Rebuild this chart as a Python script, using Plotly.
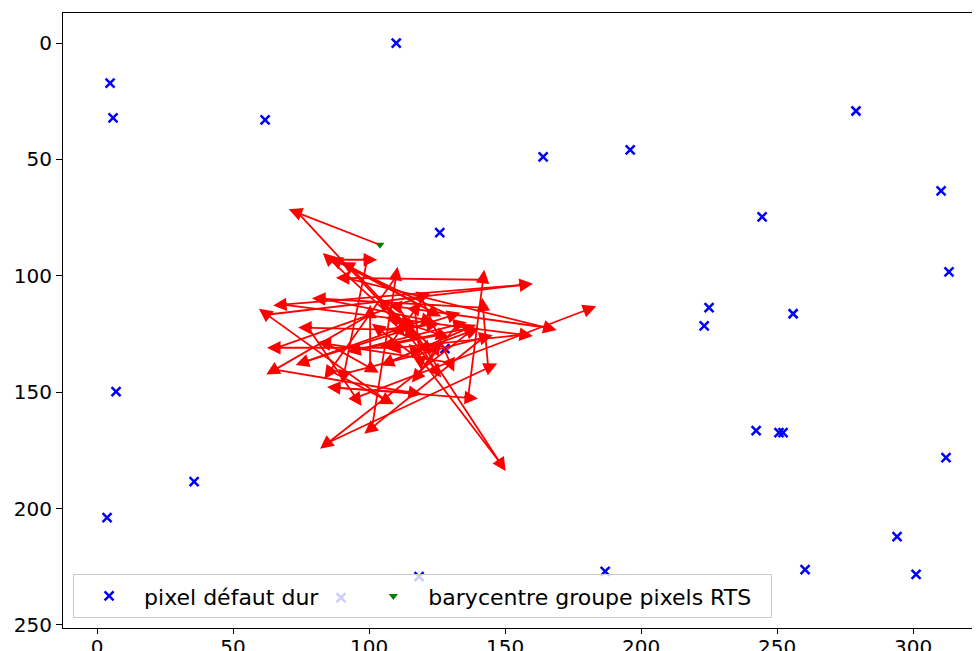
import plotly.graph_objects as go

# pixel défaut dur (x, y)
defaut_x = [4.8, 5.9, 110.0, 61.8, 164.0, 196.0, 126.0, 279.0, 310.3, 313.2, 244.5, 225.0, 223.2, 255.9,
            7.0, 35.7, 3.7, 242.3, 250.7, 252.2, 312.1, 294.1, 260.3, 301.1, 186.8, 118.4, 127.9, 89.7]
defaut_y = [17.2, 32.2, 0.0, 33.0, 48.9, 45.9, 81.5, 29.2, 63.5, 98.3, 74.7, 113.7, 121.5, 116.3,
            149.8, 188.4, 203.9, 166.5, 167.4, 167.4, 178.1, 212.0, 226.2, 228.3, 227.0, 229.2, 131.3, 238.2]

# barycentre groupe pixels RTS (trajectory order)
bary_x = [104.0, 73.9, 115.1, 85.7, 99.3, 90.8, 141.9, 101.1, 109.9, 85.7, 105.9, 62.5, 156.6, 68.4,
          156.6, 110.3, 66.2, 119.1, 129.8, 84.6, 100.4, 100.4, 65.4, 115.8, 88.2, 136.4, 141.9, 91.5,
          165.4, 110.7, 148.2, 116.9, 137.1, 84.9, 143.8, 141.9, 82.7, 120.6, 76.5, 130.1, 88.6, 123.2,
          93.0, 120.6, 107.7, 136.0, 95.6, 132.4, 118.0, 124.3, 105.9, 124.3, 114.0, 109.6, 126.1, 107.7,
          116.9, 118.8, 104.0, 122.4, 111.4, 77.6, 95.2, 180.1]
bary_y = [86.7, 73.0, 124.9, 93.1, 93.1, 142.1, 126.6, 165.2, 100.4, 140.8, 153.2, 116.7, 103.9, 112.4,
          125.3, 130.9, 130.9, 109.0, 137.3, 129.2, 139.5, 116.7, 140.3, 150.2, 148.1, 152.4, 101.7, 100.9,
          122.3, 113.3, 180.3, 132.6, 124.0, 171.7, 139.5, 113.7, 109.9, 118.9, 136.9, 117.2, 94.0, 115.5,
          96.1, 130.5, 136.9, 122.7, 131.8, 121.0, 142.5, 131.8, 112.4, 140.3, 120.2, 118.9, 125.3, 129.6,
          114.6, 136.1, 123.2, 121.0, 123.2, 122.3, 152.4, 114.6]

x_ticks = [0, 50, 100, 150, 200, 250, 300]
y_ticks = [0, 50, 100, 150, 200, 250]

# the page body has an 8px margin: the figure is sized so it fits the 980x651 window
W, H = 972, 643
ML, MT, MR, MB = 55, 5, 0, 23
XR = [-12.5, 324.6]
YR = [251.3, -12.9]

NB = "\u00a0"
fig = go.Figure()
fig.add_trace(go.Scatter(x=defaut_x, y=defaut_y, mode="markers", name="pixel défaut dur" + NB * 5,
                         marker=dict(symbol="x-thin", size=9, color="blue",
                                     line=dict(width=2.5, color="blue"))))
fig.add_trace(go.Scatter(x=bary_x, y=bary_y, mode="markers", name="barycentre groupe pixels RTS" + NB * 2,
                         marker=dict(symbol="triangle-down", size=8, color="green", line=dict(width=0))))

# pixel scale for head extension (matplotlib style head beyond endpoint)
pw = W - ML - MR
ph = H - MT - MB
sx = pw / (XR[1] - XR[0])
sy = ph / (YR[0] - YR[1])
head = 10.0
anns = []
for i in range(len(bary_x) - 1):
    x0, y0 = bary_x[i], bary_y[i]
    x1, y1 = bary_x[i + 1], bary_y[i + 1]
    dxp = (x1 - x0) * sx
    dyp = (y1 - y0) * sy
    L = (dxp ** 2 + dyp ** 2) ** 0.5 or 1.0
    tx = x1 + dxp / L * head / sx
    ty = y1 + dyp / L * head / sy
    anns.append(dict(x=tx, y=ty, ax=x0, ay=y0, xref="x", yref="y", axref="x", ayref="y",
                     text="", showarrow=True, arrowhead=2, arrowsize=1.5, arrowwidth=1.8,
                     arrowcolor="red", standoff=0, startstandoff=0))

fig.update_layout(
    width=W, height=H,
    margin=dict(l=ML, r=MR, t=MT, b=MB, pad=0),
    paper_bgcolor="white", plot_bgcolor="white",
    font=dict(family="DejaVu Sans", size=20, color="black"),
    showlegend=True,
    legend=dict(orientation="h", x=0.011, y=0.016, xanchor="left", yanchor="bottom",
                bgcolor="rgba(255,255,255,0.8)", bordercolor="#cccccc", borderwidth=1,
                font=dict(size=22, family="DejaVu Sans"), itemwidth=60),
    annotations=anns,
)
fig.update_xaxes(range=XR, showgrid=False, zeroline=False, showline=True, linecolor="black",
                 linewidth=1, mirror=True, ticks="outside", ticklen=5, tickcolor="black",
                 tickvals=x_ticks, automargin=False, ticklabelstandoff=-4,
                 tickfont=dict(size=20))
fig.update_yaxes(range=YR, showgrid=False, zeroline=False, showline=True, linecolor="black",
                 linewidth=1, mirror=False, ticks="outside", ticklen=6, tickcolor="black",
                 tickvals=y_ticks, automargin=False,
                 tickfont=dict(size=20))

fig.write_html("out.html")
